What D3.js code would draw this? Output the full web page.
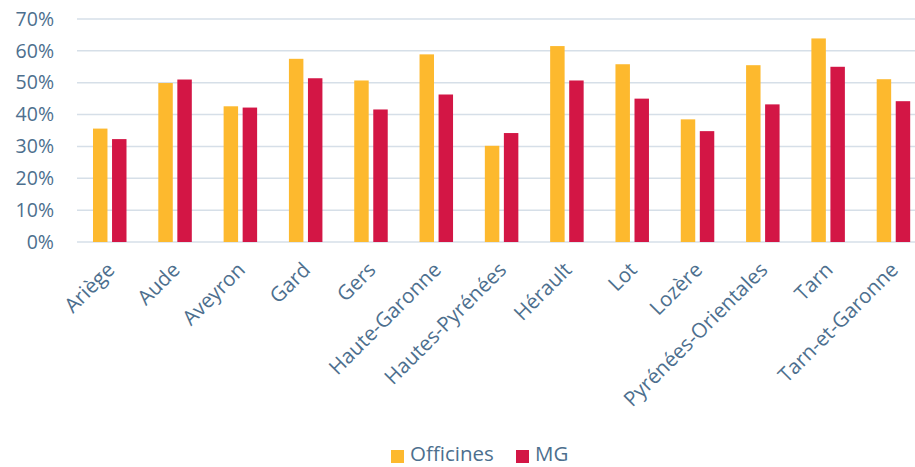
<!DOCTYPE html>
<html>
<head>
<meta charset="utf-8">
<script src="https://cdn.jsdelivr.net/npm/d3@7"></script>
<style>
  body { margin: 0; background: #fff; }
  text { font-family: "Open Sans", sans-serif; fill: #4d6f8e; }
</style>
</head>
<body>
<script>
// categories and series
var departements = ["Ariège", "Aude", "Aveyron", "Gard", "Gers", "Haute-Garonne", "Hautes-Pyrénées",
  "Hérault", "Lot", "Lozère", "Pyrénées-Orientales", "Tarn", "Tarn-et-Garonne"];
var officines = [35.6, 49.9, 42.6, 57.5, 50.7, 58.9, 30.2, 61.5, 55.8, 38.5, 55.5, 63.9, 51.1];
var mg        = [32.3, 51.0, 42.2, 51.4, 41.6, 46.3, 34.2, 50.7, 45.0, 34.8, 43.2, 55.0, 44.2];
var yTicks = [0, 10, 20, 30, 40, 50, 60, 70];
var seriesNames = ["Officines", "MG"];
var colors = ["#fdb92e", "#d31645"];

var width = 915, height = 467;
var svg = d3.select("body").append("svg")
  .attr("width", width)
  .attr("height", height);

var x = d3.scaleBand()
  .domain(departements)
  .range([77, 926])
  .paddingInner(0)
  .paddingOuter(0);

var y = d3.scaleLinear()
  .domain([0, 70])
  .range([242, 19]);

// grid lines
svg.append("g")
  .selectAll("line")
  .data(yTicks)
  .enter()
  .append("line")
  .attr("x1", 77)
  .attr("x2", 926)
  .attr("y1", function(d) { return y(d); })
  .attr("y2", function(d) { return y(d); })
  .attr("stroke", "#d6dfe8")
  .attr("stroke-width", 1.5);

// y axis labels
var yAxis = d3.axisLeft(y)
  .tickValues(yTicks)
  .tickSize(0)
  .tickPadding(0)
  .tickFormat(function(d) { return d + "%"; });
var yg = svg.append("g")
  .attr("transform", "translate(54,0)")
  .call(yAxis);
yg.select(".domain").remove();
yg.selectAll("text")
  .attr("font-size", 19.5)
  .attr("fill", "#4d6f8e")
  .attr("font-family", "Open Sans");

// bars
var inner = d3.scaleBand()
  .domain(seriesNames)
  .range([16, 49.5])
  .paddingInner(0.24);

var groups = svg.append("g")
  .selectAll("g")
  .data(departements)
  .enter()
  .append("g")
  .attr("transform", function(d) { return "translate(" + x(d) + ",0)"; });

groups.selectAll("rect")
  .data(function(d, i) { return [officines[i], mg[i]]; })
  .enter()
  .append("rect")
  .attr("x", function(d, j) { return inner(seriesNames[j]); })
  .attr("width", inner.bandwidth())
  .attr("y", function(d) { return y(d); })
  .attr("height", function(d) { return y(0) - y(d); })
  .attr("fill", function(d, j) { return colors[j]; });

// x axis labels
svg.append("g")
  .selectAll("text")
  .data(departements)
  .enter()
  .append("text")
  .attr("text-anchor", "end")
  .attr("font-size", 20.5)
  .attr("transform", function(d) {
    return "translate(" + (x(d) + x.bandwidth() / 2 - 4) + ",261) rotate(-45)";
  })
  .attr("dy", "0.7em")
  .text(function(d) { return d; });

// legend
var legend = svg.append("g");
var legendX = [391, 516];
seriesNames.forEach(function(name, i) {
  legend.append("rect")
    .attr("x", legendX[i])
    .attr("y", 450)
    .attr("width", 13)
    .attr("height", 13)
    .attr("fill", colors[i]);
  legend.append("text")
    .attr("x", legendX[i] + 19)
    .attr("y", 461)
    .attr("font-size", 20.5)
    .text(name);
});
</script>
</body>
</html>
